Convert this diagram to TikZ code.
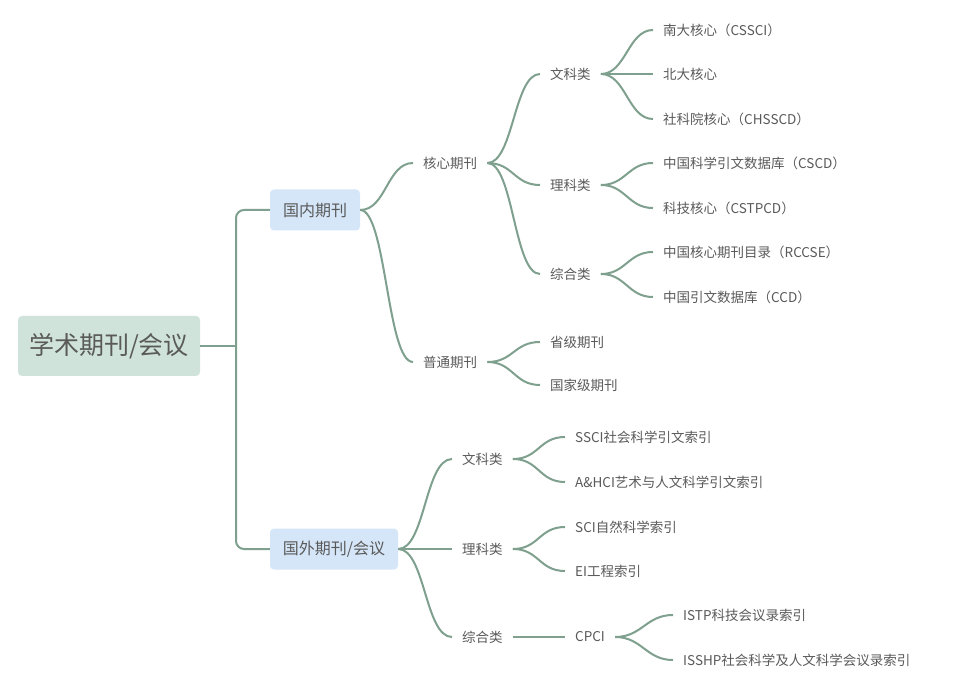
\documentclass[tikz,border=0pt]{standalone}
\usepackage{fontspec}
\setmainfont{Noto Sans CJK SC}

\definecolor{linkgreen}{HTML}{7FA08E}
\definecolor{rootfill}{HTML}{CFE3DA}
\definecolor{topicfill}{HTML}{D5E6F8}
\definecolor{txtgray}{HTML}{5A5A5A}

\begin{document}
\begin{tikzpicture}[x=1pt,y=-1pt]
\tikzset{ root/.style={fill=rootfill, rounded corners=4pt, minimum width=182pt, minimum height=60pt, text=txtgray, font=\fontsize{25}{30}\selectfont},
  topic/.style={fill=topicfill, rounded corners=4pt, minimum height=41pt, text=txtgray, font=\fontsize{16}{19}\selectfont},
  leaf/.style={anchor=west, inner xsep=10pt, inner ysep=2pt, text=txtgray, font=\fontsize{13.5}{16}\selectfont},
  link/.style={draw=linkgreen, line width=2pt},
}

\useasboundingbox [fill=white] (0,0) rectangle (969,684);
%\draw [lightgray, dashed](0,0) grid[step=50] (969,684);

\node [root] (XS) at (109,346) {学术期刊/会议};
\node [topic, minimum width=90pt]  (GN) at (315,210) {国内期刊};
\node [topic, minimum width=128pt] (GW) at (334,549) {国外期刊/会议};
\coordinate (trunk) at (236,346);

\node [leaf] (HX) at (413,163) {核心期刊};
\node [leaf] (PT) at (413,362) {普通期刊};

\node [leaf] (WK) at (540,74)  {文科类};
\node [leaf] (LK) at (540,185) {理科类};
\node [leaf] (ZH) at (540,274) {综合类};

\node [leaf] (ND)     at (653,30)  {南大核心（CSSCI）};
\node [leaf] (BD)     at (653,74)  {北大核心};
\node [leaf] (SKY)    at (653,119) {社科院核心（CHSSCD）};
\node [leaf] (CSCD)   at (653,163) {中国科学引文数据库（CSCD）};
\node [leaf] (CSTPCD) at (653,208) {科技核心（CSTPCD）};
\node [leaf] (RCCSE)  at (653,252) {中国核心期刊目录（RCCSE）};
\node [leaf] (CCD)    at (653,297) {中国引文数据库（CCD）};

\node [leaf] (SJ) at (540,342) {省级期刊};
\node [leaf] (GJ) at (540,385) {国家级期刊};

\node [leaf] (WKW) at (452,459) {文科类};
\node [leaf] (LKW) at (452,549) {理科类};
\node [leaf] (ZHW) at (452,637) {综合类};

\node [leaf] (SSCI)  at (565,437) {SSCI社会科学引文索引};
\node [leaf] (AHCI)  at (565,482) {A\&HCI艺术与人文科学引文索引};
\node [leaf] (SCI)   at (565,527) {SCI自然科学索引};
\node [leaf] (EI)    at (565,571) {EI工程索引};
\node [leaf] (CPCI)  at (565,637) {CPCI};
\node [leaf] (ISTP)  at (673,615) {ISTP科技会议录索引};
\node [leaf] (ISSHP) at (673,660) {ISSHP社会科学及人文科学会议录索引};

\draw [link] (XS.east) -- (trunk);
\draw [link, rounded corners=8pt] (GN.west) -| (trunk) |- (GW.west);

\draw [link] (GN.east) .. controls +(26,0) and +(-26,0) .. (HX.west);
\draw [link] (GN.east) .. controls +(26,0) and +(-26,0) .. (PT.west);

\draw [link] (HX.east) .. controls +(26,0) and +(-26,0) .. (WK.west);
\draw [link] (HX.east) .. controls +(26,0) and +(-26,0) .. (LK.west);
\draw [link] (HX.east) .. controls +(26,0) and +(-26,0) .. (ZH.west);

\draw [link] (WK.east) .. controls +(25,0) and +(-25,0) .. (ND.west);
\draw [link] (WK.east) -- (BD.west);
\draw [link] (WK.east) .. controls +(25,0) and +(-25,0) .. (SKY.west);
\draw [link] (LK.east) .. controls +(25,0) and +(-25,0) .. (CSCD.west);
\draw [link] (LK.east) .. controls +(25,0) and +(-25,0) .. (CSTPCD.west);
\draw [link] (ZH.east) .. controls +(25,0) and +(-25,0) .. (RCCSE.west);
\draw [link] (ZH.east) .. controls +(25,0) and +(-25,0) .. (CCD.west);

\draw [link] (PT.east) .. controls +(26,0) and +(-26,0) .. (SJ.west);
\draw [link] (PT.east) .. controls +(26,0) and +(-26,0) .. (GJ.west);

\draw [link] (GW.east) .. controls +(27,0) and +(-27,0) .. (WKW.west);
\draw [link] (GW.east) -- (LKW.west);
\draw [link] (GW.east) .. controls +(27,0) and +(-27,0) .. (ZHW.west);

\draw [link] (WKW.east) .. controls +(26,0) and +(-26,0) .. (SSCI.west);
\draw [link] (WKW.east) .. controls +(26,0) and +(-26,0) .. (AHCI.west);
\draw [link] (LKW.east) .. controls +(26,0) and +(-26,0) .. (SCI.west);
\draw [link] (LKW.east) .. controls +(26,0) and +(-26,0) .. (EI.west);
\draw [link] (ZHW.east) -- (CPCI.west);
\draw [link] (CPCI.east) .. controls +(27,0) and +(-27,0) .. (ISTP.west);
\draw [link] (CPCI.east) .. controls +(27,0) and +(-27,0) .. (ISSHP.west);

\end{tikzpicture}
\end{document}
